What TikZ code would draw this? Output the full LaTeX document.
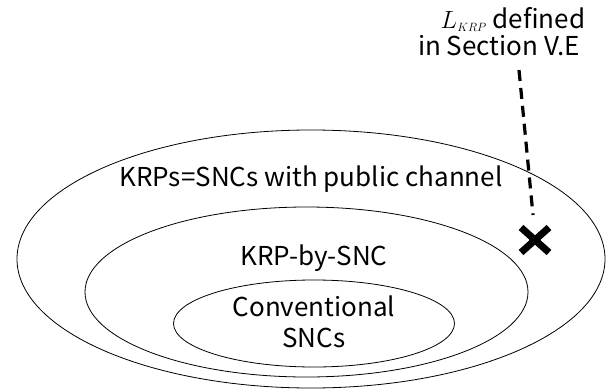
\documentclass[tikz,border=0pt]{standalone}
\usepackage{fontspec}
\setmainfont{Noto Sans CJK JP}
\usetikzlibrary{calc}
\begin{document}
\begin{tikzpicture}[x=1pt,y=-1pt,
  ring/.style={draw=black,line width=0.8pt},
  lbl/.style={font=\fontsize{26}{31}\selectfont,inner sep=0pt,align=center,anchor=base},
  pointer/.style={draw=black,line width=3.2pt,dash pattern=on 11pt off 7pt},
  cross/.style={draw=black,line width=7pt}]
\useasboundingbox (0,0) rectangle (616,391);
\draw[ring] (311,259) ellipse [x radius=294,y radius=129];
\draw[ring] (306.5,292) ellipse [x radius=221.5,y radius=85];
\draw[ring] (314,323.5) ellipse [x radius=140.5,y radius=43.5];
\node[lbl] (outer) at (311,186) {KRPs=SNCs with public channel};
\node[lbl] (mid) at (314,265) {KRP-by-SNC};
\node[lbl] (inner) at (314,347) {Conventional\\SNCs};
\node[lbl,font=\fontsize{26}{27}\selectfont] (note) at (499,55)
  {\hspace*{28pt}{\fontsize{23}{27}\selectfont$L_{\scriptscriptstyle KRP}$} defined\\in Section V.E};
\coordinate (xc) at (535,240);
\coordinate (ptop) at (519,70);
\coordinate (pbot) at (533,215);
\draw[pointer] (ptop) -- (pbot);
\draw[cross] ($(xc)+(-14,-12.5)$) -- ($(xc)+(14,12.5)$);
\draw[cross] ($(xc)+(-14,12.5)$) -- ($(xc)+(14,-12.5)$);
\end{tikzpicture}
\end{document}
